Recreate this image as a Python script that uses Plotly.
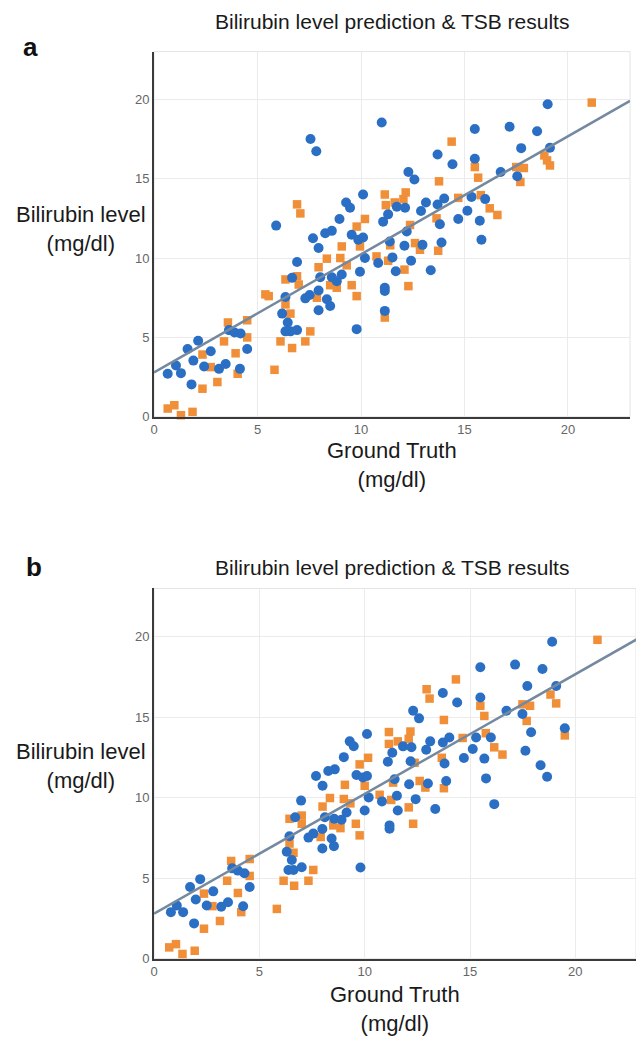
import plotly.graph_objects as go

# ---------------- data: panel a ----------------
a_blue_x = [0.66, 1.06, 1.3, 1.62, 2.13, 1.9, 2.74, 2.42, 1.81, 3.14, 3.46, 3.62, 3.89, 4.18, 4.5, 4.15,
            5.9, 6.19, 6.35, 6.46, 6.35, 6.59, 6.91, 6.67, 6.91, 7.31, 7.52, 7.95, 7.95, 8.35, 8.51, 8.03,
            8.59, 8.83, 9.07, 7.95, 7.68, 8.27, 8.59, 8.96, 9.28, 9.47, 10.1, 9.55, 9.87, 10.1, 10.19, 9.95,
            9.79, 11.07, 11.31, 11.39, 11.52, 10.83, 11.15, 11.15, 11.15, 11.68,
            7.56, 7.84, 11.0,
            19.02, 15.5, 17.18, 18.51, 17.74, 19.13, 13.7, 15.5, 14.42, 12.29, 12.58, 16.75, 17.55, 11.73,
            12.13, 12.9, 13.14, 13.7, 14.02, 15.34, 16.0, 15.14, 14.7, 13.81, 15.74, 15.82, 12.21, 12.1,
            12.97, 13.89, 12.42, 13.37]
a_blue_y = [2.71, 3.23, 2.75, 4.27, 4.79, 3.54, 4.13, 3.17, 2.04, 3.02, 3.33, 5.46, 5.31, 5.25, 4.27, 3.02,
            12.04, 6.5, 7.54, 5.94, 5.38, 5.38, 5.46, 8.75, 9.75, 7.46, 7.67, 7.96, 6.71, 7.4, 6.98, 8.79,
            8.79, 8.54, 8.96, 10.63, 11.25, 11.56, 11.71, 12.46, 13.5, 13.17, 14.0, 11.46, 11.15, 11.29, 10.0, 9.13,
            5.52, 12.29, 12.75, 11.04, 10.04, 9.69, 8.13, 7.92, 6.67, 9.17,
            17.5, 16.73, 18.54,
            19.69, 18.13, 18.27, 17.98, 16.92, 16.94, 16.52, 16.25, 15.9, 15.42, 14.94, 15.42, 15.15, 13.23,
            13.17, 12.96, 13.5, 13.37, 13.75, 13.85, 13.71, 12.98, 12.46, 12.13, 12.35, 11.15, 11.67, 10.77,
            10.83, 10.98, 9.83, 9.23]

a_orange_x = [0.66, 0.98, 1.3, 1.86, 2.34, 3.06, 2.34, 2.74, 3.38, 3.57, 3.94, 4.04, 4.5, 4.5, 5.38, 5.54,
              5.82, 6.11, 6.67, 7.31, 7.55, 6.35, 6.91, 6.99, 6.35, 6.59, 6.91, 7.07, 7.95, 8.35, 7.87, 8.51,
              8.83, 9.0, 9.07, 9.31, 9.55, 9.79, 9.79, 10.19, 9.95, 10.75, 11.31, 11.15, 11.2, 11.63, 11.15,
              21.15, 14.38, 15.5, 15.66, 13.77, 17.5, 17.87, 17.7, 18.86, 18.99, 19.13, 12.16, 12.05, 14.7,
              15.79, 16.22, 16.59, 12.37, 13.65, 12.61, 12.85, 13.73, 11.41, 12.1, 12.29]
a_orange_y = [0.52, 0.73, 0.1, 0.31, 1.77, 2.19, 3.92, 3.13, 4.75, 5.94, 4.0, 2.71, 6.08, 5.0, 7.71, 7.6,
              2.96, 4.75, 4.33, 4.75, 5.38, 8.65, 8.85, 8.33, 7.08, 6.5, 13.38, 12.81, 9.42, 9.96, 7.5, 8.29,
              8.13, 10.0, 10.73, 9.54, 8.29, 7.6, 11.98, 12.46, 10.73, 10.1, 9.83, 14.0, 13.33, 13.5, 6.25,
              19.79, 17.33, 15.73, 15.06, 14.83, 15.73, 15.67, 14.79, 16.46, 16.15, 15.83, 14.13, 13.71, 13.79,
              13.96, 13.13, 12.71, 12.08, 12.5, 10.94, 10.52, 10.46, 10.8, 9.27, 8.23]

# ---------------- data: panel b ----------------
b_blue_x = [0.8, 1.08, 1.38, 1.71, 2.19, 1.98, 2.81, 2.5, 1.9, 3.19, 3.51, 3.71, 3.98, 4.29, 4.54, 4.23,
            6.7, 6.98, 6.3, 6.43, 6.54, 6.38, 6.62, 7.01, 7.33, 7.56, 7.99, 7.99, 8.43, 8.54, 8.11, 8.55,
            8.9, 9.14, 8.0, 7.69, 8.27, 8.58, 9.01, 9.29, 9.48, 10.11, 9.61, 9.92, 10.11, 10.19, 10.0, 9.8,
            11.1, 11.31, 11.42, 11.53, 10.82, 11.18, 11.18, 11.57,
            18.9, 15.49, 17.14, 18.44, 17.72, 19.09, 13.71, 15.49, 14.39, 12.3, 12.58, 16.73, 17.49, 19.5,
            17.9, 17.63, 18.35, 18.66, 16.15, 15.76, 15.68, 14.71, 15.13, 15.29, 15.99, 14.02, 13.71, 13.11,
            12.92, 13.79, 12.18, 12.22, 11.82, 13.87, 13.0, 12.11, 12.42, 13.35]
b_blue_y = [2.89, 3.3, 2.89, 4.45, 4.94, 3.67, 4.18, 3.3, 2.19, 3.22, 3.5, 5.61, 5.47, 5.31, 4.45, 3.26,
            8.79, 9.82, 6.64, 7.6, 6.13, 5.51, 5.51, 5.68, 7.52, 7.77, 8.05, 6.84, 7.46, 6.99, 8.79, 8.69,
            8.63, 9.08, 10.74, 11.35, 11.66, 11.76, 12.52, 13.5, 13.2, 13.96, 11.41, 11.25, 11.35, 10.02, 9.2, 5.66,
            12.23, 12.79, 11.15, 10.12, 9.77, 8.28, 8.07, 9.2,
            19.69, 18.11, 18.27, 18.0, 16.94, 16.94, 16.51, 16.23, 15.92, 15.4, 14.93, 15.4, 15.2, 14.32,
            14.07, 12.92, 12.02, 11.3, 9.6, 11.2, 12.43, 12.47, 13.03, 13.74, 13.74, 13.74, 13.43, 13.5,
            12.98, 12.13, 12.27, 13.13, 13.19, 11.04, 10.88, 10.84, 9.91, 9.3]

b_orange_x = [0.72, 1.04, 1.35, 1.93, 2.37, 3.13, 2.37, 2.77, 3.47, 3.66, 3.98, 4.14, 4.54, 4.54, 5.83, 6.15,
              6.65, 7.33, 7.56, 6.43, 7.01, 7.01, 6.43, 6.62, 8.0, 8.35, 7.91, 8.51, 8.85, 9.01, 9.06, 9.32,
              9.58, 9.76, 9.76, 10.16, 10.0, 10.71, 11.26, 11.15, 11.15, 11.57,
              21.05, 14.33, 12.94, 13.08, 15.49, 15.68, 13.76, 17.49, 17.85, 17.69, 18.82, 19.09, 19.5, 12.17,
              12.09, 14.65, 15.75, 16.15, 16.54, 12.37, 13.66, 12.61, 12.88, 13.76, 11.35, 12.09, 12.3]
b_orange_y = [0.7, 0.9, 0.29, 0.49, 1.86, 2.34, 4.04, 3.26, 4.84, 6.07, 4.08, 2.89, 6.19, 5.14, 3.09, 4.84,
              4.53, 4.84, 5.51, 8.69, 8.89, 8.38, 7.15, 6.58, 9.45, 9.98, 7.56, 8.28, 8.11, 9.92, 10.8, 9.65,
              8.38, 7.66, 12.07, 12.48, 10.74, 10.18, 9.86, 14.08, 13.34, 13.5,
              19.81, 17.35, 16.74, 16.16, 15.71, 15.08, 14.83, 15.8, 15.71, 14.77, 16.41, 15.86, 13.87, 14.11,
              13.66, 13.71, 14.01, 13.13, 12.68, 12.17, 12.48, 11.04, 10.63, 10.59, 10.94, 9.4, 8.38]

fit_x = [0, 23]
fit_y = [2.8, 19.9]

tick_vals = [0, 5, 10, 15, 20]
tick_text = ["0", "5", "10", "15", "20"]

panel_labels = ["a", "b"]
chart_title = "Bilirubin level prediction &amp; TSB results"
y_title = "Bilirubin level<br>(mg/dl)"
x_title = "Ground Truth<br>(mg/dl)"

# ---------------- styling ----------------
W, H = 636, 1050
BLUE = "#2a6fc4"
ORANGE = "#f08f38"
LINE = "#7489a0"
FONT = "Liberation Sans, Arial, Helvetica, sans-serif"


def px_x(p):
    return p / W


def px_y(p):
    return 1 - p / H


fig = go.Figure()

panels = [
    dict(bx=a_blue_x, by=a_blue_y, ox=a_orange_x, oy=a_orange_y, xa="x", ya="y"),
    dict(bx=b_blue_x, by=b_blue_y, ox=b_orange_x, oy=b_orange_y, xa="x2", ya="y2"),
]

for p in panels:
    fig.add_trace(go.Scatter(x=p["ox"], y=p["oy"], mode="markers", xaxis=p["xa"], yaxis=p["ya"],
                             marker=dict(symbol="square", size=8.5, color=ORANGE),
                             cliponaxis=False, showlegend=False))
    fig.add_trace(go.Scatter(x=p["bx"], y=p["by"], mode="markers", xaxis=p["xa"], yaxis=p["ya"],
                             marker=dict(symbol="circle", size=10, color=BLUE),
                             cliponaxis=False, showlegend=False))
    fig.add_trace(go.Scatter(x=fit_x, y=fit_y, mode="lines", xaxis=p["xa"], yaxis=p["ya"],
                             line=dict(color=LINE, width=2.5), showlegend=False))

common_axis = dict(
    showgrid=True, gridcolor="#ebebeb", gridwidth=1,
    showline=True, linecolor="#3a3a3a", linewidth=2,
    zeroline=False, ticks="", tickvals=tick_vals, ticktext=tick_text,
    tickfont=dict(family=FONT, size=13, color="#666666"),
)

fig.update_layout(
    width=W, height=H,
    margin=dict(l=0, r=0, t=0, b=0),
    paper_bgcolor="white", plot_bgcolor="white",
    xaxis=dict(domain=[px_x(151), px_x(630)], range=[0, 23], anchor="y", **common_axis),
    yaxis=dict(domain=[px_y(420), px_y(52)], range=[0, 23], anchor="x", **common_axis),
    xaxis2=dict(domain=[px_x(151), 1.0], range=[0, 22.88], anchor="y2", **common_axis),
    yaxis2=dict(domain=[px_y(966), px_y(593)], range=[0, 23], anchor="x2", **common_axis),
)

# faint plot frame (top / right)
for xr, yr in [("x domain", "y domain"), ("x2 domain", "y2 domain")]:
    fig.add_shape(type="rect", xref=xr, yref=yr, x0=0, x1=1, y0=0, y1=1,
                  line=dict(color="#e4e4e4", width=1), layer="below")


def label(text, cx, cy, size, color="#1a1a1a"):
    return dict(text=text, x=px_x(cx), y=px_y(cy), xref="paper", yref="paper",
                xanchor="center", yanchor="middle", align="center", showarrow=False,
                font=dict(family=FONT, size=size, color=color))


ann = []
ann.append(label("<b>" + panel_labels[0] + "</b>", 27, 47, 26, "#111"))
ann.append(label("<b>" + panel_labels[1] + "</b>", 30, 571, 26, "#111"))
for cy in [22, 572]:
    ann.append(label(chart_title, 390, cy, 21))
for cy in [231, 772]:
    ann.append(label(y_title, 77, cy, 22))
ann.append(label(x_title, 390, 469, 22))
ann.append(label(x_title, 393, 1017, 22))

fig.update_layout(annotations=ann)

fig.write_html("out.html")
